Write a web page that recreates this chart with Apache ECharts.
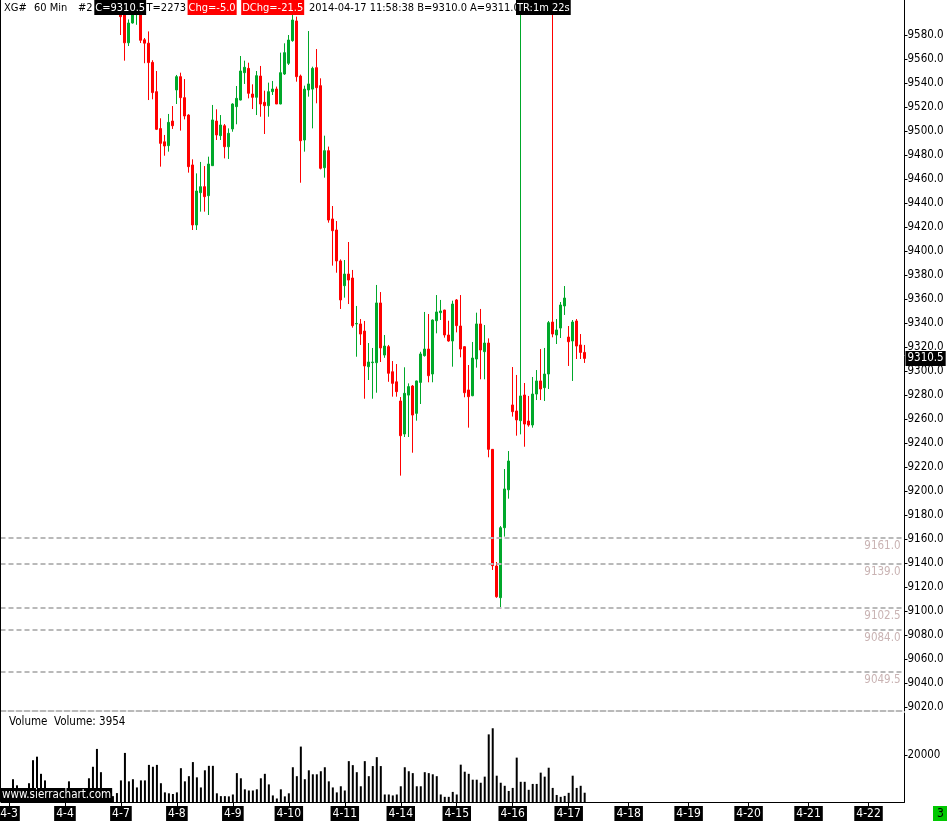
<!DOCTYPE html>
<html><head><meta charset="utf-8">
<script src="https://cdn.jsdelivr.net/npm/echarts@6/dist/echarts.min.js"></script>
<style>html,body{margin:0;padding:0;background:#fff}#c{width:947px;height:822px}</style>
</head><body><div id="c"></div>
<script>
const FONT = "'DejaVu Sans Condensed','Liberation Sans',sans-serif";
const RED = '#ff0000', GREEN = '#00a82a';

// slots on the time axis (60-min bars), first visible price bar index
const slotCount = 227;
const firstPriceBar = 30;

// OHLC of visible price bars (bar 30 .. 146)
const opens = [9601,9598,9573.5,9590,9597,9600,9576,9573.2,9557.2,9532.8,9502,9491,9487.8,9508.3,9534.2,9545.3,9527.8,9513.3,9471.7,9421.7,9448.6,9453.6,9446.1,9471.1,9508.3,9496.1,9504.4,9486.9,9501.7,9520.3,9525.8,9548.6,9552.2,9530.8,9528.1,9545.8,9523.9,9521.1,9532.8,9535,9522.5,9547.5,9556.4,9575.3,9591.7,9545.8,9492.5,9534.2,9534.9,9552.8,9537.8,9469.4,9483.6,9426.7,9417.5,9391.7,9371.1,9380.8,9377.5,9339.2,9339.2,9333.3,9303.6,9307,9306.9,9356.7,9313.3,9320.3,9299.4,9291,9275,9247.5,9279.9,9287.5,9264.7,9290.5,9312.8,9318.3,9297.5,9341.9,9348.6,9350.8,9330,9325,9359.2,9337.5,9320.3,9284.2,9279.4,9310,9339.2,9316.1,9323.3,9234.7,9137.5,9111.1,9169.4,9201,9271.7,9266.7,9258.6,9280,9258.3,9255,9280.8,9291.7,9286.1,9297.5,9340.8,9330,9335.8,9354.2,9328.3,9325,9341.7,9321.7,9315.5];
const highs = [9605,9603,9593,9603,9606,9604,9577.5,9583,9559,9550,9510.6,9496.7,9514.2,9520.8,9546.7,9548.6,9543.3,9514,9476.4,9464.7,9474.2,9470.8,9478.6,9521.7,9518.1,9513.3,9505.8,9502.2,9523.1,9537.5,9562.5,9558.6,9556.9,9538.9,9550,9554.2,9533.6,9540.3,9541.7,9537,9565.3,9573.1,9580,9596.7,9595.3,9547,9537.8,9583.3,9553.6,9568.3,9543.9,9496.1,9487,9437.5,9425,9393,9392.5,9407.5,9384.2,9354.2,9343.3,9341.7,9323.3,9319.2,9371.7,9365.8,9330,9321.7,9308.3,9305.8,9278.3,9303.1,9289.7,9288.3,9292,9316,9349.2,9347.5,9343,9363.3,9359.2,9351,9341.9,9358.6,9360,9363.3,9320.5,9305,9324.2,9348.6,9351.7,9338.3,9327.2,9235,9140.8,9170.8,9218.3,9233.3,9303.3,9296.7,9650,9290,9279.2,9295,9300.8,9318.3,9319.2,9341.7,9650,9343.3,9357.5,9370.8,9337.5,9342.5,9343.3,9330.8,9321.7];
const lows = [9580,9558.6,9570.8,9589.5,9588.5,9573.3,9556.5,9525.8,9526.4,9500.8,9470.3,9479.4,9482.8,9501.7,9522.5,9500.3,9509.7,9465.3,9417.5,9417.5,9432.8,9432.8,9430,9471,9492.5,9492.5,9477.2,9476.7,9499.4,9505.6,9525.5,9539.2,9527.2,9518.3,9513.3,9511.9,9497.5,9511.9,9530,9522.5,9522.3,9546.7,9555,9574.4,9541.1,9456.9,9482.8,9528.6,9502.2,9523.1,9468,9461.1,9423.6,9387.8,9381.9,9351.7,9361.1,9355.8,9336.1,9311.9,9321.7,9276.9,9292.5,9276.9,9281.9,9307.5,9311,9291,9278.6,9278.6,9212.8,9245,9245,9231.9,9258.6,9272.5,9312,9290.6,9290.6,9331.4,9342.5,9327.8,9324.4,9303.6,9332.2,9311.4,9278.1,9252.8,9279,9302.8,9293.1,9293.1,9228.1,9134.2,9111,9102.5,9162,9193.6,9262,9246.1,9247.2,9236.9,9253.6,9252.8,9275.8,9275.8,9275,9285,9328.1,9322.5,9327.5,9346.7,9304.2,9291.7,9310,9310,9306.7];
const closes = [9595.3,9573.5,9590,9598,9602,9575.6,9573.2,9557,9532,9501.4,9489.7,9487.5,9507.2,9504.4,9545.3,9527.8,9512.5,9470.3,9421.7,9450,9453.6,9445.3,9472.5,9509.2,9496.7,9505,9486.9,9498.1,9522.5,9527.2,9550,9553.1,9531.4,9528.1,9546.1,9522.5,9521.1,9532.8,9535,9522.5,9548.6,9565.3,9575.8,9592.5,9545.3,9491.9,9534.9,9539.2,9552.2,9536.1,9468.9,9483.6,9425.8,9416.9,9391.7,9359.2,9380.8,9375.8,9337.8,9339.6,9330.8,9304.2,9307.5,9307.5,9356.7,9319.2,9320.8,9298.1,9289.7,9282.8,9246.1,9281.4,9287,9263.3,9291.7,9314.2,9318.3,9296.1,9342.5,9349.2,9350,9330,9325,9355.8,9337.8,9318.3,9281.9,9278.6,9310.8,9339.2,9317.5,9323.3,9234.7,9137.8,9111.9,9169.4,9201.7,9225,9266.1,9259.2,9279.2,9255.8,9255,9280.8,9291.7,9285,9297.5,9340.3,9330.8,9334.2,9355,9360.8,9324.4,9340.8,9320.8,9315.5,9310.5];

// volume of every bar (bar 0 .. 146)
const volumes = [3000,2500,3500,9700,7100,5000,4000,8000,17800,19300,12000,9200,4500,3000,2500,3000,4000,8800,3500,3000,2500,4500,10100,15000,22600,12700,4000,3000,2500,3800,9200,20900,8800,9700,6200,9200,9200,15800,15000,15800,8000,4100,3700,3400,4100,14400,8800,11000,17000,10500,6200,13500,15400,15400,3700,2500,2500,2400,3200,12300,10100,5400,4900,4900,5400,10100,12000,7500,2800,1500,5400,2400,3700,14800,11000,23600,9700,13500,11800,11800,13100,14800,8800,6200,4100,6700,4900,17400,15700,12700,6700,17400,11000,15300,19100,15300,3200,3200,2800,3200,6700,14800,13100,12300,6700,6700,12700,12300,11800,11000,3200,2200,2200,4300,3200,15900,12900,12000,9500,9500,8200,10800,28800,31400,11200,8200,6900,4700,6000,18900,8600,8600,5200,7700,7700,12500,10800,14600,6000,3000,2200,2600,3900,11200,6000,6900,3954];

const dayTickIndex = [2,16,30,44,58,72,86,100,114,128,142,157,172,187,202,217];
const dayTickLabels = ['4-3','4-4','4-7','4-8','4-9','4-10','4-11','4-14','4-15','4-16','4-17','4-18','4-19','4-20','4-21','4-22'];
const priceTicks = [9020,9040,9060,9080,9100,9120,9140,9160,9180,9200,9220,9240,9260,9280,9300,9320,9340,9360,9380,9400,9420,9440,9460,9480,9500,9520,9540,9560,9580];
const volumeTicks = [20000];
const levelLines = [9161.0, 9139.0, 9102.5, 9084.0, 9049.5];

const cats = [];
for (let i = 0; i < slotCount; i++) cats.push('b' + i);
const labelMap = {};
dayTickIndex.forEach((k, j) => { labelMap[k] = dayTickLabels[j]; });
const isDay = (idx) => labelMap[idx] !== undefined;

const candles = volumes.map((v, i) => {
  if (i < firstPriceBar) return '-';
  const j = i - firstPriceBar;
  return [opens[j], closes[j], lows[j], highs[j]];
});
const lastClose = closes[closes.length - 1];
const prevClose = closes[closes.length - 2];
const lastVol = volumes[volumes.length - 1];

const chart = echarts.init(document.getElementById('c'), null, {renderer: 'canvas'});

const levelMarks = levelLines.map(v => ({
  yAxis: v,
  lineStyle: {color: '#b9b9b9', width: 2, type: [5, 3]},
  label: {show: true, position: 'insideEndBottom', formatter: () => v.toFixed(1), color: '#c9b3b3', fontFamily: FONT, fontSize: 11.5, distance: [4, 2]}
}));
levelMarks.push({
  yAxis: lastClose,
  lineStyle: {color: 'rgba(0,0,0,0)', width: 0},
  label: {show: true, position: 'end', distance: 1, formatter: () => lastClose.toFixed(1), color: '#fff', backgroundColor: '#000', padding: [2, 2, 1, 2], fontFamily: FONT, fontSize: 11.5}
});

function hdr(text, x, fill, bg) {
  const s = {text: text, x: x, y: 0, fill: fill, fontFamily: FONT, fontSize: 11, lineHeight: 12, padding: [2, 1, 1, 1]};
  if (bg) s.backgroundColor = bg;
  return {type: 'text', z: 100, style: s};
}

const option = {
  animation: false,
  backgroundColor: '#fff',
  grid: [
    {left: 0.5, top: 0, width: 904, height: 711, outerBoundsMode: 'none'},
    {left: 1, top: 713, width: 903.5, height: 89, outerBoundsMode: 'none'}
  ],
  xAxis: [
    {type: 'category', gridIndex: 0, data: cats, boundaryGap: false,
     axisLine: {show: true, lineStyle: {color: '#b9b9b9', width: 2, type: [5, 3]}},
     axisTick: {show: false}, axisLabel: {show: false}, splitLine: {show: false}},
    {type: 'category', gridIndex: 1, data: cats, boundaryGap: false,
     axisLine: {show: true, lineStyle: {color: '#000', width: 1}},
     axisTick: {show: true, interval: isDay, length: 4, lineStyle: {color: '#000'}},
     axisLabel: {show: true, interval: isDay, formatter: (val, idx) => labelMap[idx] || '',
       color: '#fff', backgroundColor: '#000', padding: [2, 2, 1, 2], fontFamily: FONT, fontSize: 12, lineHeight: 12, margin: 4},
     splitLine: {show: false}}
  ],
  yAxis: [
    {type: 'value', gridIndex: 0, position: 'right', min: 9016.67, max: 9609.17, scale: true,
     axisLine: {show: true, lineStyle: {color: '#000'}},
     axisTick: {show: true, length: 3, customValues: priceTicks, lineStyle: {color: '#000'}},
     axisLabel: {show: true, customValues: priceTicks, formatter: v => Number(v).toFixed(1), color: '#000', fontFamily: FONT, fontSize: 11.5, margin: 3},
     splitLine: {show: false}},
    {type: 'value', gridIndex: 1, position: 'right', min: 0, max: 37900,
     axisLine: {show: true, lineStyle: {color: '#000'}},
     axisTick: {show: true, length: 3, customValues: volumeTicks, lineStyle: {color: '#000'}},
     axisLabel: {show: true, customValues: volumeTicks, formatter: v => String(v), color: '#000', fontFamily: FONT, fontSize: 11.5, margin: 3},
     splitLine: {show: false}}
  ],
  series: [
    {type: 'candlestick', xAxisIndex: 0, yAxisIndex: 0, data: candles, barWidth: 2, clip: true,
     itemStyle: {color: GREEN, color0: RED, borderColor: GREEN, borderColor0: RED, borderColorDoji: GREEN, borderWidth: 1},
     markLine: {silent: true, symbol: ['none', 'none'], animation: false, data: levelMarks}},
    {type: 'bar', xAxisIndex: 1, yAxisIndex: 1, data: volumes, barWidth: 2,
     itemStyle: {color: '#000'}}
  ],
  graphic: [
    {type: 'line', z: 50, shape: {x1: 0.5, y1: 0, x2: 0.5, y2: 802}, style: {stroke: '#000', lineWidth: 1}},
    hdr('XG#', 3, '#000'),
    hdr('60 Min', 33, '#000'),
    hdr('#2', 77, '#000'),
    hdr('C=' + lastClose.toFixed(1), 94.3, '#fff', '#000'),
    hdr('T=2273', 145.5, '#000'),
    hdr('Chg=' + (lastClose - prevClose).toFixed(1), 187.6, '#fff', RED),
    hdr('DChg=-21.5', 241.2, '#fff', RED),
    hdr('2014-04-17 11:58:38 B=9310.0 A=9311.0', 308, '#000'),
    hdr('TR:1m 22s', 516, '#fff', '#000'),
    {type: 'text', z: 100, style: {text: 'Volume  Volume: ' + lastVol, x: 9, y: 716, fill: '#000', fontFamily: FONT, fontSize: 11.5}},
    {type: 'text', z: 100, style: {text: 'www.sierrachart.com', x: 0, y: 788, fill: '#fff', backgroundColor: '#000', padding: [1, 1, 1, 2], fontFamily: FONT, fontSize: 11.5, lineHeight: 12}},
    {type: 'text', z: 100, style: {text: '3', x: 933, y: 806, fill: '#000', backgroundColor: '#00c800', padding: [2, 4, 1, 4], fontFamily: FONT, fontSize: 12, lineHeight: 12}}
  ]
};
chart.setOption(option);
</script></body></html>
